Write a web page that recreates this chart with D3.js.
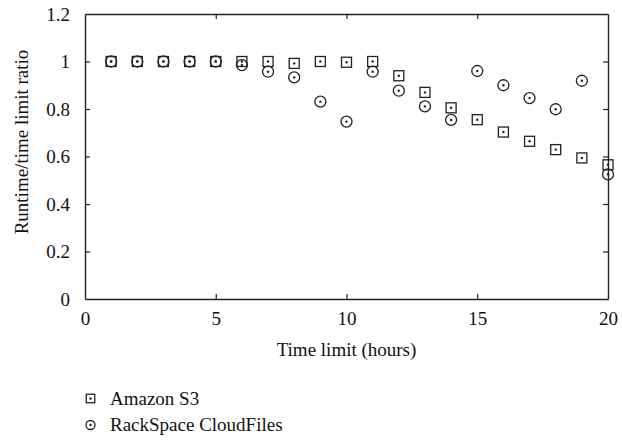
<!DOCTYPE html>
<html>
<head>
<meta charset="utf-8">
<script src="https://cdn.jsdelivr.net/npm/d3@7"></script>
<style>
  html, body { margin: 0; padding: 0; background: #fff; }
  svg { display: block; }
  text { font-family: "Liberation Serif", "Times New Roman", "DejaVu Serif", serif !important; }
</style>
</head>
<body>
<svg id="chart" width="622" height="440"></svg>
<script>
// Runtime / time-limit ratio per storage backend
const hours = [1, 2, 3, 4, 5, 6, 7, 8, 9, 10, 11, 12, 13, 14, 15, 16, 17, 18, 19, 20];
const amazonS3 = [1, 1, 1, 1, 1, 1, 1, 0.992, 1, 0.997, 1, 0.94, 0.87, 0.805, 0.755, 0.703, 0.664, 0.629, 0.594, 0.565];
const rackspace = [1, 1, 1, 1, 1, 0.985, 0.957, 0.933, 0.831, 0.747, 0.957, 0.877, 0.811, 0.754, 0.96, 0.9, 0.846, 0.799, 0.919, 0.525];
const xTicks = [0, 5, 10, 15, 20];
const yTicks = [0, 0.2, 0.4, 0.6, 0.8, 1, 1.2];
const seriesNames = ["Amazon S3", "RackSpace CloudFiles"];

const serif = "'Liberation Serif', 'Times New Roman', serif";
const svg = d3.select("#chart");
const margin = { left: 85, top: 14, right: 14, bottom: 141 };
const W = 622, H = 440;
const x = d3.scaleLinear().domain([0, 20]).range([margin.left, W - margin.right]);
const y = d3.scaleLinear().domain([0, 1.2]).range([H - margin.bottom, margin.top]);

const ink = "#222";
const fontSize = 19;

// Frame with inward ticks on every side
const fmt = d => d3.format("~g")(d);
const gB = svg.append("g").attr("transform", `translate(0,${y(0)})`)
  .call(d3.axisBottom(x).tickValues(xTicks).tickSizeInner(-5).tickSizeOuter(0).tickPadding(13).tickFormat(fmt));
const gT = svg.append("g").attr("transform", `translate(0,${y(1.2)})`)
  .call(d3.axisTop(x).tickValues(xTicks).tickSizeInner(-5).tickSizeOuter(0).tickFormat(""));
const gL = svg.append("g").attr("transform", `translate(${x(0)},0)`)
  .call(d3.axisLeft(y).tickValues(yTicks).tickSizeInner(-5).tickSizeOuter(0).tickPadding(15).tickFormat(fmt));
const gR = svg.append("g").attr("transform", `translate(${x(20)},0)`)
  .call(d3.axisRight(y).tickValues(yTicks).tickSizeInner(-5).tickSizeOuter(0).tickFormat(""));

[gB, gT, gL, gR].forEach(g => {
  g.attr("font-family", serif).attr("font-size", fontSize);
  g.select(".domain").attr("stroke", ink).attr("stroke-width", 1.4);
  g.selectAll(".tick line").attr("stroke", ink).attr("stroke-width", 1.2);
  g.selectAll(".tick text").attr("fill", "#111")
    .attr("font-family", serif).attr("font-size", fontSize);
});
// drop the edge ticks that would sit on the frame corners
gT.selectAll(".tick").filter(d => d === 0 || d === 20).remove();
gR.selectAll(".tick").filter(d => d === 0 || d === 1.2).remove();
gB.selectAll(".tick line").filter(d => d === 0 || d === 20).remove();
gL.selectAll(".tick line").filter(d => d === 0 || d === 1.2).remove();
gL.selectAll(".tick text").attr("dy", "0.34em");

// Axis titles
svg.append("text")
  .attr("x", (x(0) + x(20)) / 2).attr("y", 356)
  .attr("text-anchor", "middle").attr("fill", "#111")
  .attr("font-family", serif).attr("font-size", fontSize)
  .text("Time limit (hours)");
svg.append("text")
  .attr("transform", `translate(28,142) rotate(-90)`)
  .attr("text-anchor", "middle").attr("fill", "#111")
  .attr("font-family", serif).attr("font-size", fontSize)
  .text("Runtime/time limit ratio");

// Marker helpers
function drawSquare(g, cx, cy, s) {
  g.append("rect").attr("x", cx - s / 2).attr("y", cy - s / 2).attr("width", s).attr("height", s)
    .attr("fill", "none").attr("stroke", ink).attr("stroke-width", 1.3);
  g.append("circle").attr("cx", cx).attr("cy", cy).attr("r", 1.2).attr("fill", ink);
}
function drawRing(g, cx, cy, r) {
  g.append("circle").attr("cx", cx).attr("cy", cy).attr("r", r)
    .attr("fill", "none").attr("stroke", ink).attr("stroke-width", 1.3);
  g.append("circle").attr("cx", cx).attr("cy", cy).attr("r", 1.2).attr("fill", ink);
}

const marks = svg.append("g");
hours.forEach((h, i) => drawSquare(marks, x(h), y(amazonS3[i]), 10));
hours.forEach((h, i) => drawRing(marks, x(h), y(rackspace[i]), 5.5));

// Legend
const legend = svg.append("g");
const rows = [398.5, 425];
drawSquare(legend, 90.5, rows[0], 8.5);
drawRing(legend, 90.5, rows[1], 4.5);
seriesNames.forEach((name, i) => {
  legend.append("text").attr("x", 110).attr("y", rows[i]).attr("dy", "0.33em")
    .attr("fill", "#111").attr("font-family", serif).attr("font-size", fontSize).text(name);
});
</script>
</body>
</html>
